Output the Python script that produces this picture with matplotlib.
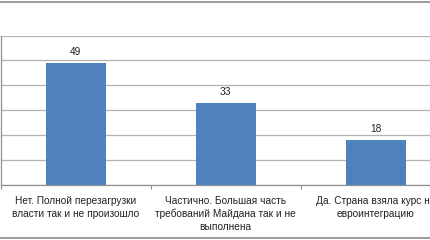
import matplotlib
matplotlib.use("Agg")
import matplotlib.pyplot as plt
from matplotlib.lines import Line2D

categories = [
    "Нет. Полной перезагрузки\nвласти так и не произошло",
    "Частично. Большая часть\nтребований Майдана так и не\nвыполнена",
    "Да. Страна взяла курс на\nевроинтеграцию",
]
values = [49, 33, 18]
yticks = [0, 10, 20, 30, 40, 50, 60]

plt.rcParams['font.family'] = ['Liberation Sans', 'DejaVu Sans']

W, H = 430, 240
fig = plt.figure(figsize=(W / 100, H / 100), dpi=100)
fig.patch.set_facecolor('white')

ax_left = 0.5 / W
ax_w = 450 / W
ax_bottom = (H - 184.5) / H
ax_h = 149 / H
ax = fig.add_axes([ax_left, ax_bottom, ax_w, ax_h])

x = list(range(len(values)))
bars = ax.bar(x, values, width=0.4, color='#4f81bd', zorder=3)
for xi, v in zip(x, values):
    ax.annotate(str(v), (xi, v), xytext=(0, 4), textcoords='offset points',
                ha='center', va='bottom', fontsize=7.3, color='#222222')

ax.set_xlim(-0.5, 2.5)
ax.set_ylim(0, 60)
ax.set_yticks(yticks)
ax.yaxis.grid(True, color='#b3b3b3', linewidth=0.9, zorder=0)
ax.tick_params(axis='y', length=0, labelleft=False)

ax.set_xticks(x)
ax.set_xticklabels(categories, fontsize=7.3, color='#222222', linespacing=1.38)
ax.tick_params(axis='x', which='major', length=0, pad=8)
ax.set_xticks([-0.5, 0.5, 1.5, 2.5], minor=True)
ax.tick_params(axis='x', which='minor', length=3, color='#909090', width=0.8)

for s in ['top', 'right']:
    ax.spines[s].set_visible(False)
ax.spines['left'].set_color('#909090')
ax.spines['bottom'].set_color('#909090')
ax.spines['left'].set_linewidth(0.9)
ax.spines['bottom'].set_linewidth(0.9)

# chart border lines (top and bottom)
fig.add_artist(Line2D([0, 1], [1 - 1.5 / H, 1 - 1.5 / H], transform=fig.transFigure,
                      color='#8c8c8c', linewidth=1.2))
fig.add_artist(Line2D([0, 1], [2 / H, 2 / H], transform=fig.transFigure,
                      color='#8c8c8c', linewidth=1.2))

fig.savefig('out.png', dpi=100, facecolor='white')
